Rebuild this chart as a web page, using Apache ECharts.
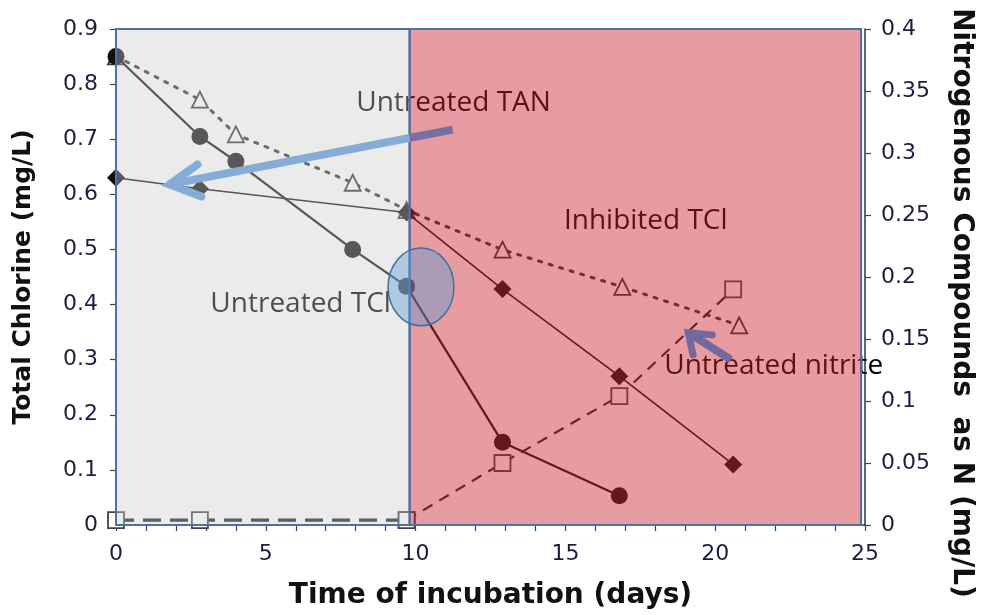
<!DOCTYPE html>
<html><head><meta charset="utf-8">
<script src="https://cdn.jsdelivr.net/npm/echarts@6/dist/echarts.min.js"></script>
<style>html,body{margin:0;padding:0;background:#fff}#c{width:983px;height:615px}</style>
</head><body><div id="c"></div>
<script>
// ---- data ----
const tclDays = [0, 2.8, 4, 7.9, 9.7, 12.9, 16.8];
const tclValues = [0.85, 0.705, 0.66, 0.50, 0.433, 0.15, 0.053];
const inhDays = [0, 2.8, 9.7, 12.9, 16.8, 20.6];
const inhValues = [0.63, 0.61, 0.567, 0.428, 0.27, 0.11];
const tanDays = [0, 2.8, 4, 7.9, 9.7, 12.9, 16.9, 20.8];
const tanValues = [0.378, 0.343, 0.315, 0.276, 0.254, 0.222, 0.192, 0.161];
const nitriteDays = [0, 2.8, 9.7, 12.9, 16.8, 20.6];
const nitriteValues = [0.004, 0.004, 0.004, 0.05, 0.104, 0.19];
const nitriteSplit = 2;            // index where the inhibited phase starts
const xTickLabels = ['0', '5', '10', '15', '20', '25'];
const leftTickLabels = ['0', '0.1', '0.2', '0.3', '0.4', '0.5', '0.6', '0.7', '0.8', '0.9'];
const rightTickLabels = ['0', '0.05', '0.1', '0.15', '0.2', '0.25', '0.3', '0.35', '0.4'];
const phaseStart = 0, phaseBoundary = 9.8, phaseEnd = 24.87;
const annotations = [
  { text: 'Untreated TAN', x: 8.02, y: 0.766 },
  { text: 'Inhibited TCl', x: 14.95, y: 0.551 },
  { text: 'Untreated TCl', x: 3.15, y: 0.401 },
  { text: 'Untreated nitrite', x: 18.3, y: 0.289 }
];

const pair = (xs, ys) => xs.map((x, i) => [x, ys[i]]);
const num = a => a.map(Number);
const xt = num(xTickLabels), lt = num(leftTickLabels), rt = num(rightTickLabels);

const labelColor = '#1b1e3c';
const axisCommon = {
  axisLine: { show: true, lineStyle: { color: '#333', width: 1.5 } },
  axisTick: { show: true, length: 6, lineStyle: { color: '#444', width: 1.2 } },
  splitLine: { show: false },
  axisLabel: { color: labelColor, fontFamily: 'DejaVu Sans', fontSize: 22 }
};

const chart = echarts.init(document.getElementById('c'), null, { renderer: 'canvas' });
const option = {
  animation: false,
  backgroundColor: '#fff',
  grid: { left: 116, right: 113, top: 29, bottom: 88, containLabel: false },
  xAxis: Object.assign({}, axisCommon, {
    type: 'value', min: xt[0], max: xt[xt.length - 1], interval: xt[1] - xt[0],
    minorTick: { show: true, splitNumber: 5, length: 6, lineStyle: { color: '#444', width: 1.2 } },
    axisLabel: Object.assign({}, axisCommon.axisLabel, { margin: 18 }),
    name: 'Time of incubation (days)', nameLocation: 'middle', nameGap: 57,
    nameTextStyle: { fontFamily: 'DejaVu Sans', fontWeight: 'bold', fontSize: 28, color: '#111' }
  }),
  yAxis: [
    Object.assign({}, axisCommon, {
      type: 'value', position: 'left', min: lt[0], max: lt[lt.length - 1], interval: lt[1] - lt[0],
      axisLabel: Object.assign({}, axisCommon.axisLabel, { margin: 18 }),
      name: 'Total Chlorine (mg/L)', nameLocation: 'middle', nameGap: 80, nameRotate: 90,
      nameTextStyle: { fontFamily: 'DejaVu Sans', fontWeight: 'bold', fontSize: 25, color: '#111' }
    }),
    Object.assign({}, axisCommon, {
      type: 'value', position: 'right', min: rt[0], max: rt[rt.length - 1], interval: rt[1] - rt[0],
      axisLabel: Object.assign({}, axisCommon.axisLabel, { margin: 16 }),
      name: 'Nitrogenous Compounds  as N (mg/L)', nameLocation: 'middle', nameGap: 82, nameRotate: -90,
      nameTextStyle: { fontFamily: 'DejaVu Sans', fontWeight: 'bold', fontSize: 28, color: '#111',
        padding: [0, 0, 0, 52] }
    })
  ],
  series: [
    {
      name: 'TCl', type: 'line', yAxisIndex: 0, data: pair(tclDays, tclValues),
      symbol: 'circle', symbolSize: 17, z: 3,
      lineStyle: { color: '#111', width: 2.2 }, itemStyle: { color: '#111' },
      markArea: {
        silent: true, z: 10, label: { show: false },
        data: [
          [{ xAxis: phaseStart, itemStyle: { color: 'rgba(203,203,203,0.38)', borderColor: '#4a72a4', borderWidth: 2 } },
           { xAxis: phaseBoundary }],
          [{ xAxis: phaseBoundary, itemStyle: { color: 'rgba(200,36,47,0.45)', borderColor: '#4a72a4', borderWidth: 2 } },
           { xAxis: phaseEnd }]
        ]
      }
    },
    {
      name: 'Inhibited', type: 'line', yAxisIndex: 0, data: pair(inhDays, inhValues),
      symbol: 'diamond', symbolSize: 18, z: 3,
      lineStyle: { color: '#111', width: 1.6 }, itemStyle: { color: '#111' }
    },
    {
      name: 'TAN', type: 'line', yAxisIndex: 1, data: pair(tanDays, tanValues),
      symbol: 'triangle', symbolSize: 16, z: 2,
      lineStyle: { color: '#333', width: 3, type: [3, 8], cap: 'round' },
      itemStyle: { color: '#fff', borderColor: '#333', borderWidth: 1.8 }
    },
    {
      name: 'Nitrite A', type: 'line', yAxisIndex: 1,
      data: pair(nitriteDays.slice(0, nitriteSplit + 1), nitriteValues.slice(0, nitriteSplit + 1)),
      symbol: 'rect', symbolSize: 16, z: 2,
      lineStyle: { color: '#1a1a1a', width: 3.2, type: [18, 9] },
      itemStyle: { color: '#fff', borderColor: '#444', borderWidth: 1.8 }
    },
    {
      name: 'Nitrite B', type: 'line', yAxisIndex: 1,
      data: pair(nitriteDays.slice(nitriteSplit), nitriteValues.slice(nitriteSplit)),
      symbol: 'rect', symbolSize: 16, z: 2,
      lineStyle: { color: '#222', width: 2.2, type: [11, 8] },
      itemStyle: { color: '#fff', borderColor: '#444', borderWidth: 1.8 }
    }
  ]
};
chart.setOption(option);

// ---- annotations placed through the chart's own scales ----
const P = (x, y) => chart.convertToPixel({ xAxisIndex: 0, yAxisIndex: 0 }, [x, y]);
const g = [];
annotations.forEach(a => {
  const p = P(a.x, a.y);
  g.push({ type: 'text', z: 5, silent: true, x: p[0], y: p[1],
    style: { text: a.text, fontFamily: 'Open Sans', fontSize: 28, fill: '#000', verticalAlign: 'middle', align: 'left' } });
});
// TAN arrow (blue, purple where it crosses the inhibited zone)
const aS = P(11.24, 0.7175), aT = P(1.79, 0.618), aB = P(phaseBoundary, 0);
const tB = (aB[0] - aS[0]) / (aT[0] - aS[0]);
const aM = [aS[0] + tB * (aT[0] - aS[0]), aS[1] + tB * (aT[1] - aS[1])];
g.push({ type: 'line', z: 20, silent: true, shape: { x1: aS[0], y1: aS[1], x2: aM[0], y2: aM[1] },
  style: { stroke: '#7a6ea0', lineWidth: 8, lineCap: 'butt' } });
g.push({ type: 'line', z: 20, silent: true, shape: { x1: aM[0], y1: aM[1], x2: aT[0], y2: aT[1] },
  style: { stroke: '#84acd6', lineWidth: 8, lineCap: 'butt' } });
g.push({ type: 'polyline', z: 20, silent: true, shape: { points: [P(2.72, 0.654), aT, P(2.85, 0.596)] },
  style: { stroke: '#84acd6', lineWidth: 8, lineCap: 'round', lineJoin: 'miter', fill: null } });
// nitrite arrow
const nT = P(19.1, 0.349), nS = P(20.52, 0.3);
g.push({ type: 'line', z: 20, silent: true, shape: { x1: nS[0], y1: nS[1], x2: nT[0], y2: nT[1] },
  style: { stroke: '#76689c', lineWidth: 8 } });
g.push({ type: 'polyline', z: 20, silent: true, shape: { points: [P(19.9, 0.345), nT, P(19.26, 0.309)] },
  style: { stroke: '#76689c', lineWidth: 7, lineCap: 'round', fill: null } });
// highlight ellipse
const eC = P(10.18, 0.432), eR = P(10.18 + 1.1, 0.432 - 0.0705);
g.push({ type: 'ellipse', z: 20, silent: true,
  shape: { cx: eC[0], cy: eC[1], rx: eR[0] - eC[0], ry: eR[1] - eC[1] },
  style: { fill: 'rgba(91,155,213,0.42)', stroke: '#41719c', lineWidth: 1.5 } });
chart.setOption({ graphic: g });
</script></body></html>
